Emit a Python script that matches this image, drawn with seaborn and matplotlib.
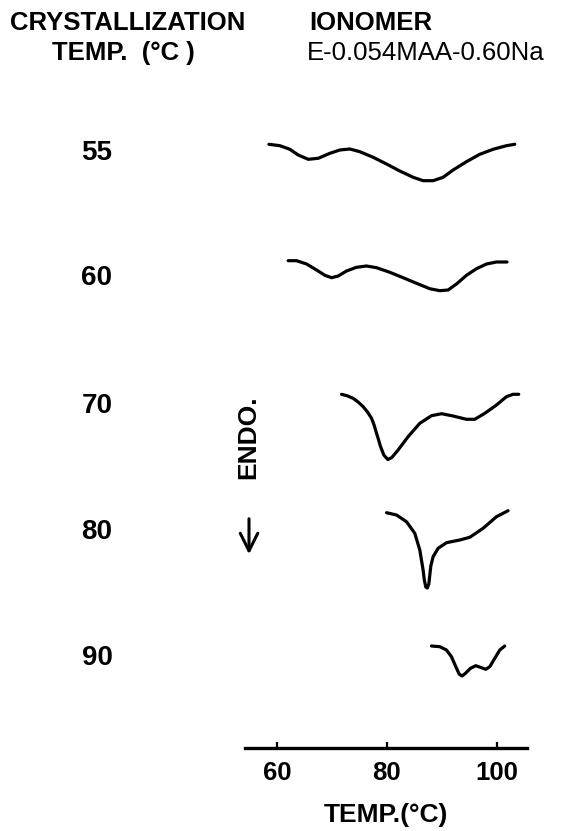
import numpy as np
import pandas as pd
import matplotlib
matplotlib.use("Agg")
import matplotlib.pyplot as plt
import seaborn as sns

# DSC melting traces of the Na ionomer after isothermal crystallization.
# Each trace: temperatures (deg C) and endothermic signal (a.u., downward = endo),
# stacked with a vertical offset per crystallization temperature.

cryst_temps = ["55", "60", "70", "80", "90"]

temp_55 = [58.55, 60.55, 62.36, 63.88, 65.70, 67.52, 69.64, 71.45, 73.27, 75.09, 77.52, 79.94,
           82.36, 84.79, 86.61, 88.42, 90.24, 92.06, 94.48, 96.91, 99.33, 101.76, 103.27]
signal_55 = [0, -1.4, -5.0, -10.7, -15.0, -14.0, -9.0, -5.7, -4.7, -7.4, -13.0, -19.7,
             -26.7, -33.0, -36.4, -36.4, -33.0, -25.7, -17.4, -10.0, -5.0, -1.4, 0]

temp_60 = [62.05, 63.58, 65.40, 67.22, 68.73, 69.95, 71.15, 72.67, 74.49, 76.31, 78.13, 80.55,
           82.96, 85.40, 87.82, 89.64, 91.15, 92.67, 94.49, 96.31, 98.13, 99.95, 101.87]
signal_60 = [0, 0, -3.3, -9.3, -14.6, -17.0, -15.3, -10.3, -6.6, -5.3, -7.0, -11.6,
             -17.0, -22.6, -28.0, -30.0, -29.3, -23.3, -14.6, -8.0, -3.3, -1.3, -1.3]

temp_70 = [71.76, 72.80, 73.87, 74.80, 75.69, 76.50, 77.22, 77.70, 78.13, 78.50, 78.82, 79.45,
           80.18, 80.91, 82.05, 83.87, 86.00, 88.13, 89.95, 92.05, 94.49, 96.00, 97.82,
           99.95, 101.76, 102.96, 104.00]
signal_70 = [0, -1.5, -4.0, -7.8, -12.4, -17.8, -24.0, -31.0, -39.0, -45.5, -51.7, -60.7,
             -65.2, -63.2, -55.7, -42.4, -29.0, -21.4, -19.4, -21.7, -25.0, -25.0, -19.0,
             -10.7, -2.4, 0, 0]

temp_80 = [79.95, 81.76, 83.58, 85.09, 86.00, 86.60, 86.82, 87.09, 87.36, 87.64, 87.82, 88.00,
           88.42, 89.33, 90.85, 93.27, 95.09, 97.51, 99.95, 102.05]
signal_80 = [0, -2.3, -9.0, -20.6, -37.3, -57.3, -67.3, -74.3, -75.3, -71.3, -62.3, -53.3,
             -44.0, -35.6, -30.0, -27.3, -24.6, -15.6, -4.0, 2.0]

temp_90 = [88.13, 89.64, 90.85, 91.76, 92.55, 93.15, 93.69, 94.31, 95.22, 96.18, 97.22, 98.00,
           98.73, 99.64, 100.55, 101.45]
signal_90 = [0, -0.7, -4.0, -10.7, -20.7, -28.0, -30.0, -27.3, -22.3, -19.7, -21.7, -23.3,
             -20.7, -12.3, -4.0, 0]

trace_offsets = [603.7, 487.3, 353.7, 235.3, 102.0]

temp_ticks = [60, 80, 100]
temp_ticklabels = ["60", "80", "100"]

traces = [(temp_55, signal_55), (temp_60, signal_60), (temp_70, signal_70),
          (temp_80, signal_80), (temp_90, signal_90)]

frames = []
for tc, (t, s), off in zip(cryst_temps, traces, trace_offsets):
    frames.append(pd.DataFrame({"T": t, "y": np.asarray(s) + off, "Tc": tc}))
df = pd.concat(frames, ignore_index=True)

sns.set_style("white")
plt.rcParams["font.family"] = ["Liberation Sans", "DejaVu Sans"]
plt.rcParams["text.color"] = "black"
plt.rcParams["axes.labelcolor"] = "black"
plt.rcParams["xtick.color"] = "black"
plt.rcParams["xtick.labelcolor"] = "black"

W, H = 562, 831
fig = plt.figure(figsize=(W / 100, H / 100), dpi=100)

# axes placed in pixel units: x from 245 to 527, rows 100 to 748
ax = fig.add_axes([245 / W, (H - 748) / H, 282 / W, 648 / H])
sns.lineplot(data=df, x="T", y="y", units="Tc", estimator=None, sort=False,
             color="black", linewidth=2.3, ax=ax, legend=False)
for line in ax.get_lines():
    line.set_solid_joinstyle("round")
    line.set_solid_capstyle("round")

ax.set_xlim(54.2, 105.5)
ax.set_ylim(0, 648)
for side in ("left", "right", "top"):
    ax.spines[side].set_visible(False)
ax.spines["bottom"].set_linewidth(2.4)
ax.spines["bottom"].set_color("black")
ax.set_yticks([])
ax.set_ylabel("")
ax.set_xticks(temp_ticks)
ax.set_xticklabels(temp_ticklabels)
ax.tick_params(axis="x", direction="in", length=4, width=1.6, color="black",
               pad=9, labelsize=18.5, bottom=True, labelcolor="black")
for lab in ax.get_xticklabels():
    lab.set_fontweight("bold")
ax.set_xlabel("TEMP.(\u00b0C)", fontsize=19, fontweight="bold", labelpad=13,
              color="black")


def fx(px):
    return px / W


def fy(py):
    return 1 - py / H


# header
fig.text(fx(128), fy(23), "CRYSTALLIZATION", ha="center", va="center",
         fontsize=18.5, fontweight="bold")
fig.text(fx(123), fy(53), "TEMP.  (\u00b0C )", ha="center", va="center",
         fontsize=18.5, fontweight="bold")
fig.text(fx(371), fy(23), "IONOMER", ha="center", va="center",
         fontsize=18.5, fontweight="bold")
fig.text(fx(426), fy(53), "E-0.054MAA-0.60Na", ha="center", va="center",
         fontsize=18.5)

# crystallization temperature labels
label_rows = [153, 278, 406, 532, 658]
for tc, row in zip(cryst_temps, label_rows):
    fig.text(fx(97), fy(row), tc, ha="center", va="center",
             fontsize=20, fontweight="bold")

# endotherm direction
fig.text(fx(248), fy(437), "ENDO.", ha="center", va="center", rotation=90,
         fontsize=19, fontweight="bold")
fig.add_artist(matplotlib.patches.FancyArrowPatch(
    (fx(249), fy(516)), (fx(249), fy(557)), transform=fig.transFigure,
    arrowstyle="->,head_length=0.7,head_width=0.35", mutation_scale=18,
    linewidth=2.2, color="black"))

fig.savefig("out.png", dpi=100, facecolor="white")
